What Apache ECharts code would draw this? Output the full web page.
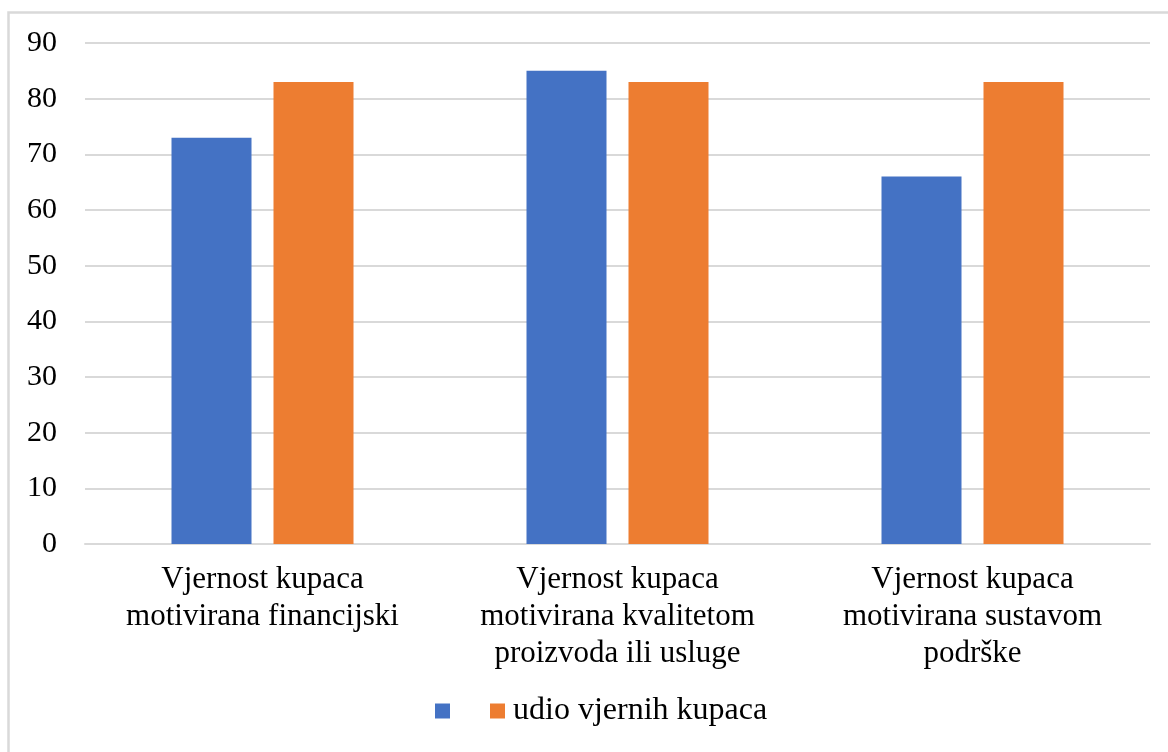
<!DOCTYPE html>
<html><head><meta charset="utf-8">
<script src="https://cdn.jsdelivr.net/npm/echarts@6/dist/echarts.min.js"></script>
<style>html,body{margin:0;padding:0;background:#fff}#c{width:1168px;height:752px}</style>
</head><body><div id="c"></div>
<script>
const categories = ["Vjernost kupaca\nmotivirana financijski", "Vjernost kupaca\nmotivirana kvalitetom\nproizvoda ili usluge", "Vjernost kupaca\nmotivirana sustavom\npodrške"];
const seriesNames = [" ", "udio vjernih kupaca"];
const blueValues = [73, 85, 66];
const orangeValues = [83, 83, 83];
const yTicks = [0, 10, 20, 30, 40, 50, 60, 70, 80, 90];

const font = "'Liberation Serif', 'Times New Roman', serif";
const chart = echarts.init(document.getElementById('c'));
chart.setOption({
  animation: false,
  textStyle: { fontFamily: font },
  graphic: [{ type: 'rect', shape: { x: 8.5, y: 12.5, width: 1200, height: 800 }, style: { fill: 'none', stroke: '#d9d9d9', lineWidth: 2.5 }, silent: true }],
  grid: { left: 85, right: 18, top: 43, bottom: 208 },
  legend: {
    data: seriesNames, bottom: 20, left: 430, icon: 'rect', itemWidth: 15, itemHeight: 15, itemGap: 24,
    textStyle: { fontFamily: font, fontSize: 32, color: '#000', padding: [0, 0, 0, 3] }
  },
  xAxis: {
    type: 'category', data: categories,
    axisLine: { lineStyle: { color: '#d9d9d9', width: 2 } }, axisTick: { show: false },
    axisLabel: { color: '#000', fontSize: 31, lineHeight: 37, margin: 17, fontFamily: font, interval: 0 }
  },
  yAxis: {
    type: 'value', min: yTicks[0], max: yTicks[yTicks.length - 1], interval: 10,
    axisLine: { show: false }, axisTick: { show: false },
    splitLine: { lineStyle: { color: '#d9d9d9', width: 2 } },
    axisLabel: { color: '#000', fontSize: 30, margin: 28, fontFamily: font }
  },
  series: [
    { name: seriesNames[0], type: 'bar', data: blueValues, barWidth: 80, barGap: '27.5%', itemStyle: { color: '#4472c4' } },
    { name: seriesNames[1], type: 'bar', data: orangeValues, barWidth: 80, itemStyle: { color: '#ed7d31' } }
  ]
});
</script></body></html>
